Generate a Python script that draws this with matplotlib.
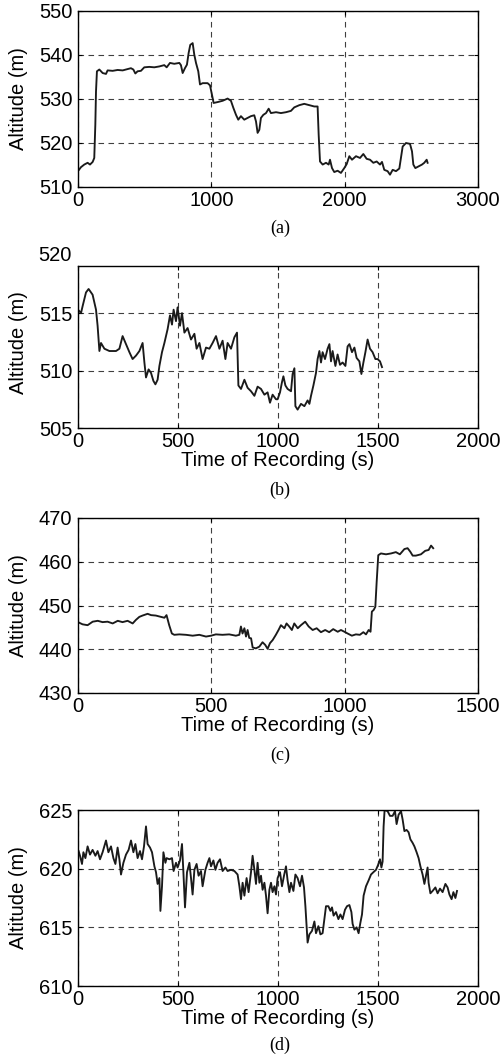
import numpy as np
import matplotlib
matplotlib.use("Agg")
import matplotlib.pyplot as plt

plt.rcParams['font.family'] = ['Liberation Sans', 'DejaVu Sans']

# ---- panel (a) ----
t_a = [0, 22, 47, 72, 90, 110, 122, 130, 135, 142, 160, 185, 210, 222, 260, 297, 335,
       372, 397, 415, 430, 447, 472, 497, 535, 572, 610, 647, 665, 690, 722, 760, 772,
       785, 802, 817, 830, 842, 860, 872, 885, 902, 915, 935, 972, 990, 1010, 1017, 1047,
       1085, 1122, 1147, 1165, 1185, 1202, 1222, 1247, 1272, 1297, 1322, 1335, 1347, 1360,
       1372, 1390, 1410, 1430, 1447, 1485, 1522, 1560, 1597, 1622, 1660, 1697, 1735, 1772,
       1797, 1805, 1815, 1835, 1860, 1880, 1890, 1905, 1922, 1947, 1972, 1997, 2015, 2035,
       2055, 2085, 2115, 2140, 2165, 2190, 2215, 2240, 2265, 2280, 2297, 2322, 2340, 2360,
       2385, 2410, 2422, 2435, 2460, 2490, 2505, 2515, 2530, 2555, 2580, 2597, 2615, 2622]
alt_a = [513.6, 514.5, 515.1, 515.5, 515.1, 515.7, 516.6, 524.2, 531.7, 536.3, 536.7, 535.9,
         535.7, 536.5, 536.4, 536.6, 536.5, 536.8, 537.0, 536.7, 535.8, 536.3, 536.4, 537.2,
         537.3, 537.2, 537.4, 537.7, 537.2, 538.2, 538.0, 538.2, 537.7, 535.9, 537.0, 537.8,
         540.5, 542.3, 542.7, 540.1, 538.2, 536.3, 533.3, 533.6, 533.6, 533.1, 530.2, 529.1,
         529.3, 529.6, 530.1, 529.6, 528.0, 526.4, 525.3, 526.1, 525.3, 525.7, 526.1, 526.3,
         524.9, 522.3, 523.0, 525.7, 526.4, 526.8, 527.8, 526.8, 527.0, 526.8, 527.0, 527.3,
         528.1, 528.6, 528.9, 528.6, 528.3, 528.3, 521.9, 515.8, 515.1, 515.5, 515.1, 516.2,
         514.3, 513.4, 513.7, 513.2, 514.3, 515.2, 517.0, 516.2, 517.0, 516.6, 517.5, 516.4,
         516.2, 515.5, 515.8, 515.1, 515.7, 513.9, 513.6, 512.8, 513.9, 513.6, 514.2, 516.6,
         519.2, 520.0, 519.8, 518.1, 515.1, 514.3, 514.7, 515.1, 515.5, 516.2, 515.5]

# ---- panel (b) ----
t_b = [0, 15, 23, 40, 53, 73, 90, 98, 107, 115, 132, 157, 190, 207, 223, 240, 257, 273, 290,
       307, 323, 332, 340, 353, 365, 377, 387, 398, 407, 420, 432, 448, 460, 470, 478, 490,
       498, 510, 520, 532, 548, 565, 582, 593, 607, 623, 640, 657, 673, 690, 707, 723, 737,
       748, 765, 782, 795, 802, 815, 832, 848, 865, 882, 898, 915, 932, 948, 960, 973, 990,
       998, 1010, 1020, 1027, 1037, 1048, 1065, 1073, 1082, 1087, 1098, 1115, 1132, 1148,
       1157, 1165, 1177, 1190, 1198, 1207, 1215, 1223, 1235, 1248, 1257, 1265, 1273, 1287,
       1298, 1310, 1323, 1337, 1348, 1357, 1370, 1382, 1393, 1407, 1417, 1427, 1437, 1448,
       1460, 1473, 1487, 1498, 1510, 1520]
alt_b = [515.3, 515.0, 515.6, 516.8, 517.1, 516.6, 515.3, 513.9, 511.7, 512.4, 511.9, 511.7,
         511.7, 511.9, 513.0, 512.3, 511.6, 511.0, 511.3, 511.7, 512.4, 510.7, 509.4, 510.1,
         509.8, 509.1, 508.8, 509.2, 510.4, 511.6, 512.4, 513.6, 514.8, 514.0, 515.3, 514.3,
         515.5, 513.9, 515.0, 513.3, 513.7, 512.7, 513.2, 511.9, 512.4, 511.0, 512.0, 511.9,
         512.4, 513.0, 511.9, 512.6, 511.0, 512.4, 511.9, 512.9, 513.3, 508.7, 508.4, 509.2,
         508.5, 508.2, 507.8, 508.6, 508.4, 507.9, 508.1, 507.2, 507.9, 507.5, 507.5, 508.1,
         509.0, 509.5, 508.7, 508.4, 508.2, 509.7, 510.2, 506.9, 506.6, 507.1, 506.9, 507.4,
         507.1, 507.8, 508.7, 509.8, 511.0, 511.7, 510.7, 511.6, 511.0, 511.9, 512.3, 510.8,
         511.7, 510.4, 511.4, 510.5, 510.7, 510.4, 512.1, 512.3, 511.6, 512.0, 511.1, 510.8,
         509.7, 510.7, 511.6, 512.7, 511.9, 511.6, 511.0, 511.0, 510.8, 510.3]

# ---- panel (c) ----
t_c = [0, 17, 36, 55, 74, 92, 111, 130, 149, 167, 186, 205, 217, 230, 242, 261, 274, 292,
       311, 324, 332, 342, 352, 361, 380, 405, 430, 455, 480, 499, 517, 542, 567, 592, 605,
       611, 617, 624, 630, 636, 642, 649, 655, 667, 680, 692, 702, 711, 720, 730, 742, 752,
       761, 774, 782, 792, 802, 811, 824, 836, 852, 865, 880, 895, 911, 927, 942, 957, 974,
       986, 999, 1011, 1027, 1042, 1057, 1070, 1080, 1090, 1097, 1102, 1109, 1115, 1120,
       1126, 1136, 1155, 1174, 1192, 1207, 1224, 1236, 1246, 1255, 1267, 1286, 1302, 1315,
       1324, 1332]
alt_c = [446.2, 445.7, 445.5, 446.3, 446.5, 446.2, 446.3, 445.9, 446.5, 446.2, 446.5, 445.9,
         446.7, 447.4, 447.7, 448.1, 447.8, 447.7, 447.4, 447.2, 447.8, 445.5, 443.6, 443.3,
         443.4, 443.3, 443.1, 443.3, 442.9, 443.1, 443.4, 443.3, 443.4, 443.1, 443.3, 445.2,
         443.6, 444.8, 442.9, 444.4, 442.6, 442.5, 440.4, 440.2, 440.6, 441.6, 441.0, 440.1,
         441.4, 442.1, 443.3, 444.4, 445.5, 444.8, 445.9, 445.2, 444.4, 445.9, 444.8, 445.5,
         446.3, 445.2, 444.4, 444.8, 443.9, 444.4, 443.9, 444.6, 444.0, 444.4, 444.0, 443.6,
         443.1, 443.4, 443.3, 443.9, 443.4, 444.4, 444.0, 448.6, 449.0, 449.7, 455.4, 461.5,
         461.9, 461.7, 461.9, 462.2, 461.7, 462.9, 463.1, 462.3, 461.4, 461.4, 461.7, 462.5,
         462.7, 463.7, 463.1]

# ---- panel (d) ----
t_d = [3, 10, 20, 27, 37, 48, 60, 73, 87, 98, 110, 123, 140, 152, 165, 177, 187, 198, 207,
       215, 227, 240, 253, 265, 277, 287, 298, 310, 320, 330, 340, 348, 360, 370, 382, 390,
       398, 407, 412, 420, 427, 437, 443, 457, 470, 478, 490, 498, 510, 520, 527, 535, 545,
       557, 565, 573, 582, 593, 603, 615, 623, 637, 648, 657, 665, 677, 687, 698, 710, 723,
       737, 748, 765, 782, 798, 807, 815, 823, 832, 843, 853, 865, 873, 882, 890, 898, 907,
       915, 923, 932, 940, 948, 957, 965, 973, 982, 990, 998, 1010, 1020, 1030, 1040, 1048,
       1057, 1065, 1077, 1087, 1098, 1110, 1120, 1130, 1137, 1143, 1148, 1157, 1170, 1182,
       1190, 1202, 1212, 1223, 1232, 1240, 1252, 1262, 1270, 1278, 1290, 1302, 1312, 1323,
       1335, 1345, 1357, 1367, 1373, 1382, 1393, 1403, 1412, 1420, 1428, 1440, 1453, 1465,
       1477, 1490, 1500, 1510, 1517, 1523, 1528, 1533, 1548, 1560, 1573, 1585, 1593, 1603,
       1615, 1623, 1632, 1643, 1653, 1662, 1673, 1682, 1693, 1703, 1712, 1723, 1732, 1740,
       1748, 1753, 1762, 1773, 1787, 1798, 1810, 1823, 1837, 1848, 1857, 1868, 1877, 1887,
       1895]
alt_d = [621.5, 621.1, 620.4, 621.4, 620.9, 621.9, 621.2, 621.6, 621.1, 621.5, 620.8, 621.4,
         622.4, 621.4, 621.9, 620.9, 620.4, 621.8, 620.8, 619.5, 620.5, 621.2, 621.6, 622.4,
         621.4, 622.1, 620.9, 621.5, 620.8, 621.9, 623.6, 622.1, 621.8, 621.4, 620.2, 619.7,
         618.7, 619.2, 616.4, 618.5, 621.4, 620.5, 620.9, 620.8, 620.9, 619.8, 620.5, 620.1,
         620.7, 622.1, 619.7, 616.7, 619.7, 620.5, 619.2, 617.8, 619.9, 620.4, 619.4, 619.8,
         618.5, 619.9, 620.5, 620.9, 620.2, 620.7, 619.9, 620.5, 620.8, 619.8, 620.1, 619.8,
         619.9, 619.8, 619.5, 618.5, 617.4, 618.8, 617.7, 619.2, 618.0, 619.7, 621.1, 619.9,
         618.7, 620.5, 618.8, 619.4, 618.2, 618.8, 617.7, 616.2, 618.2, 618.8, 618.0, 618.5,
         617.8, 619.2, 619.7, 618.5, 619.4, 620.2, 619.0, 618.0, 618.8, 618.1, 619.5, 619.2,
         618.5, 619.4, 618.4, 616.8, 615.1, 613.7, 614.4, 614.7, 615.5, 614.5, 615.1, 614.4,
         614.5, 615.7, 616.8, 616.8, 616.4, 616.7, 616.0, 616.3, 615.7, 616.1, 615.7, 616.5,
         616.8, 616.9, 616.3, 615.3, 614.8, 615.0, 614.5, 615.4, 616.1, 617.7, 618.5, 619.0,
         619.5, 619.7, 619.9, 620.3, 620.8, 620.1, 620.6, 623.6, 625.0, 624.9, 624.5, 624.5,
         624.9, 623.8, 624.6, 624.9, 624.2, 623.2, 623.3, 623.1, 622.5, 622.2, 621.9, 621.4,
         620.9, 620.2, 619.5, 618.7, 619.4, 620.1, 618.8, 617.9, 618.1, 618.4, 617.9, 618.3,
         618.0, 618.7, 618.4, 617.8, 617.4, 618.0, 617.5, 618.1]

panels = [
    dict(t=t_a, y=alt_a, xlim=(0, 3000), xticks=[0, 1000, 2000, 3000],
         ylim=(510, 550), yticks=[510, 520, 530, 540, 550], xlabel=None, cap="(a)",
         box=(78, 11, 187)),
    dict(t=t_b, y=alt_b, xlim=(0, 2000), xticks=[0, 500, 1000, 1500, 2000],
         ylim=(505, 519.1), yticks=[505, 510, 515], xlabel="Time of Recording (s)", cap="(b)",
         box=(78, 266, 428)),
    dict(t=t_c, y=alt_c, xlim=(0, 1500), xticks=[0, 500, 1000, 1500],
         ylim=(430, 470), yticks=[430, 440, 450, 460, 470], xlabel="Time of Recording (s)",
         cap="(c)", box=(78, 518, 693)),
    dict(t=t_d, y=alt_d, xlim=(0, 2000), xticks=[0, 500, 1000, 1500, 2000],
         ylim=(610, 625), yticks=[610, 615, 620, 625], xlabel="Time of Recording (s)",
         cap="(d)", box=(78, 810, 986)),
]
cap_y = [228, 490, 755, 1045]

W, H = 504, 1058
FS = 14.5
fig = plt.figure(figsize=(W / 100, H / 100), dpi=100)

for p, cy in zip(panels, cap_y):
    left, top, bottom = p["box"]
    ax = fig.add_axes([left / W, 1 - bottom / H, 400 / W, (bottom - top) / H])
    ax.plot(p["t"], p["y"], color="#1a1a1a", lw=1.35)
    ax.set_xlim(*p["xlim"])
    ax.set_ylim(*p["ylim"])
    ax.set_xticks(p["xticks"])
    ax.set_yticks(p["yticks"])
    ax.tick_params(direction="in", length=3, width=0.8, labelsize=FS,
                   top=True, right=True)
    ax.tick_params(axis="x", pad=3)
    ax.tick_params(axis="y", pad=4)
    ax.grid(True, color="0.25", linestyle=(0, (5, 4)), linewidth=0.8)
    for s in ax.spines.values():
        s.set_linewidth(1.0)
    ax.set_ylabel("Altitude (m)", fontsize=FS)
    ylab_y = 0.53 if p["cap"] == "(b)" else 0.5
    ax.yaxis.set_label_coords(-0.125, ylab_y)
    if p["cap"] == "(b)":
        # the 520 label sits above the cropped top of this panel
        ax.text(-0.017, 520, "520", transform=ax.get_yaxis_transform(),
                ha="right", va="center", fontsize=FS, clip_on=False)
    if p["xlabel"]:
        ax.set_xlabel(p["xlabel"], fontsize=FS, labelpad=0)
    fig.text(280 / W, 1 - cy / H, p["cap"], ha="center", va="center",
             fontsize=13, family="Liberation Serif")

fig.savefig("out.png", dpi=100)
